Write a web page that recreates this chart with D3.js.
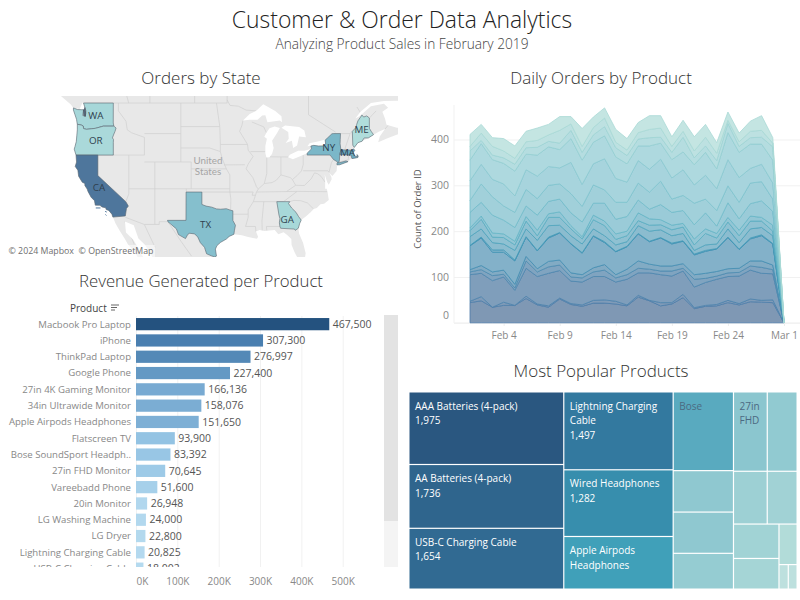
<!DOCTYPE html>
<html>
<head>
<meta charset="utf-8">
<script src="https://cdnjs.cloudflare.com/ajax/libs/d3/7.8.5/d3.min.js"></script>
<style>
  body { margin: 0; background: #fff; }
  text { font-family: "Open Sans", sans-serif; }
</style>
</head>
<body>
<div id="chart"></div>
<script>
// ---- revenue bars ----
var barProducts = ["Macbook Pro Laptop", "iPhone", "ThinkPad Laptop", "Google Phone", "27in 4K Gaming Monitor",
  "34in Ultrawide Monitor", "Apple Airpods Headphones", "Flatscreen TV", "Bose SoundSport Headph..", "27in FHD Monitor",
  "Vareebadd Phone", "20in Monitor", "LG Washing Machine", "LG Dryer", "Lightning Charging Cable", "USB-C Charging Cable"];
var barRevenue = [467500, 307300, 276997, 227400, 166136, 158076, 151650, 93900, 83392, 70645, 51600, 26948, 24000, 22800, 20825, 18002];
var revenueTicks = [0, 100000, 200000, 300000, 400000, 500000];

// ---- daily orders, running top of each stacked layer, Feb 1 .. Mar 1 ----
var orderTicks = [0, 100, 200, 300, 400];
var dayTicks = [new Date(2019, 1, 4), new Date(2019, 1, 9), new Date(2019, 1, 14), new Date(2019, 1, 19), new Date(2019, 1, 24), new Date(2019, 2, 1)];
var days = d3.timeDay.range(new Date(2019, 1, 1), new Date(2019, 2, 2));
var layerA = [44,48,34,38,38,53,39,34,52,40,36,43,43,41,37,56,48,37,41,55,31,36,37,44,39,46,45,44,0];
var layerB = [47,57,34,45,38,58,41,37,54,42,39,49,50,47,39,60,49,44,44,62,33,38,40,49,42,52,49,50,0];
var layerC = [105,108,92,100,71,119,101,108,114,91,89,101,101,89,95,109,109,105,102,113,78,88,95,101,102,115,108,107,0];
var layerD = [111,116,103,106,76,135,111,122,126,100,98,111,115,98,105,119,117,113,113,119,95,97,102,109,110,124,121,116,0];
var layerE = [116,125,111,115,84,145,118,134,137,109,105,120,127,105,117,135,128,124,124,129,105,108,112,118,119,135,135,126,0];
var layerF = [168,185,154,154,135,187,157,185,196,172,152,189,175,155,166,194,177,185,172,178,148,156,161,186,160,183,190,172,0];
var layerG = [169,187,159,159,137,188,158,187,197,173,153,190,177,156,167,195,178,186,174,179,150,158,162,187,161,185,192,173,0];
var layerH = [188,205,175,172,158,205,180,212,213,190,172,205,190,170,177,212,200,203,190,195,158,170,172,205,175,205,208,190,0];
var layerI = [201,226,187,186,170,222,190,230,230,205,183,225,212,182,190,223,213,214,203,209,170,195,185,220,190,222,222,200,0];
var layerJ = [207,233,196,194,178,232,202,238,242,212,188,235,222,194,200,240,227,225,213,217,183,205,195,230,202,233,230,213,0];
var layerK = [241,263,235,224,208,255,235,265,270,240,220,261,261,226,232,268,248,258,241,245,214,240,211,262,227,260,266,243,0];
var layerL = [267,303,275,255,241,291,271,300,303,282,254,301,290,263,263,305,285,309,270,278,261,270,245,299,263,305,308,270,0];
var layerM = [310,346,313,303,277,334,320,341,338,350,302,347,358,315,307,354,335,357,316,334,301,322,293,356,317,337,346,305,0];
var layerN = [355,391,356,348,331,368,366,384,378,402,355,394,408,362,347,386,386,392,356,373,345,372,336,415,372,390,390,355,0];
var layerO = [375,398,366,360,346,382,383,396,392,420,372,410,428,382,365,401,404,405,372,405,360,386,354,435,385,404,405,384,0];
var layerP = [385,414,385,375,359,395,398,410,420,434,385,426,447,394,377,415,422,425,385,418,375,405,370,442,395,418,420,392,0];
var layerQ = [411,433,404,402,386,418,425,433,450,450,424,449,469,422,402,437,452,452,406,442,406,433,393,460,414,440,452,404,0];
var layers = [layerA, layerB, layerC, layerD, layerE, layerF, layerG, layerH, layerI, layerJ, layerK, layerL, layerM, layerN, layerO, layerP, layerQ];

// ---- treemap, units per product ----
var column1 = [["AAA Batteries (4-pack)", 1975], ["AA Batteries (4-pack)", 1736], ["USB-C Charging Cable", 1654]];
var column2 = [["Lightning Charging Cable", 1497], ["Wired Headphones", 1282], ["Apple Airpods Headphones", 1011]];
var column3 = [["Bose SoundSport Headphones", 834], ["iPhone", 439], ["27in 4K Gaming Monitor", 437], ["Google Phone", 379]];
var rowTop = [["27in FHD Monitor", 471], ["34in Ultrawide Monitor", 416]];
var rowMid = [["Flatscreen TV", 313], ["ThinkPad Laptop", 277]];
var stackLeft = [["Macbook Pro Laptop", 275], ["20in Monitor", 245]];
var stackRight = [["Vareebadd Phone", 129]];
var pairLg = [["LG Washing Machine", 40], ["LG Dryer", 38]];
var tileLines = {
  "AAA Batteries (4-pack)": ["AAA Batteries (4-pack)", "1,975"],
  "AA Batteries (4-pack)": ["AA Batteries (4-pack)", "1,736"],
  "USB-C Charging Cable": ["USB-C Charging Cable", "1,654"],
  "Lightning Charging Cable": ["Lightning Charging", "Cable", "1,497"],
  "Wired Headphones": ["Wired Headphones", "1,282"],
  "Apple Airpods Headphones": ["Apple Airpods", "Headphones"],
  "Bose SoundSport Headphones": ["Bose"],
  "27in FHD Monitor": ["27in", "FHD"]
};

// ---- map, lon/lat outlines ----
var stateNames = ["WA", "OR", "CA", "TX", "GA", "NY", "MA", "ME"];
var stateOrders = [1450, 1320, 7300, 2650, 1400, 2900, 3300, 1100];
var stateLabelAt = [[-120.4,47.4], [-120.4,44.0], [-119.8,37.2], [-99.3,31.3], [-83.6,32.2], [-75.6,43.0], [-72.0,42.4], [-69.3,45.5]];
var outlineWA = [[-124.7,48.38],[-123.9,48.17],[-123.1,48.15],[-122.75,48.15],[-122.9,47.4],[-122.4,47.3],[-122.35,47.7],[-122.3,48],[-122.5,48.45],[-122.76,49],[-117.03,49],[-117.04,46.42],[-116.92,46],[-118.98,46],[-119.3,45.93],[-120.5,45.7],[-121.2,45.65],[-122.2,45.57],[-122.75,45.67],[-122.8,46],[-123.2,46.15],[-123.95,46.25],[-124.05,46.65],[-124.1,46.9],[-124.4,47.5],[-124.7,48.1]];
var outlineOR = [[-124.55,42.84],[-124.2,42],[-120,42],[-117.03,42],[-117.03,43.8],[-117,44.2],[-117.2,44.4],[-117,44.8],[-116.7,45.3],[-116.5,45.75],[-116.92,46],[-118.98,46],[-119.3,45.93],[-120.5,45.7],[-121.2,45.65],[-122.2,45.57],[-122.75,45.67],[-122.8,46],[-123.2,46.15],[-123.95,46.25],[-123.95,45.5],[-124.05,44.7],[-124.15,43.9],[-124.4,43.2]];
var outlineCA = [[-124.2,42],[-120,42],[-120,39],[-114.63,35],[-114.14,34.3],[-114.5,33.9],[-114.72,32.72],[-117.12,32.53],[-117.3,33],[-117.9,33.6],[-118.4,33.75],[-118.5,34.03],[-119.2,34.15],[-119.6,34.42],[-120.5,34.45],[-120.65,35.15],[-121.3,35.7],[-121.9,36.6],[-122.05,36.95],[-122.5,37.5],[-122.5,37.8],[-123,38],[-123.7,38.9],[-123.85,39.8],[-124.35,40.35],[-124.1,41]];
var outlineTX = [[-106.62,32],[-103.06,32],[-103.04,36.5],[-100,36.5],[-100,34.56],[-99.2,34.3],[-98.1,34.13],[-97.2,33.85],[-96.4,33.8],[-95.3,33.88],[-94.48,33.64],[-94.04,33.55],[-94.04,33],[-94.04,31.99],[-93.55,31.2],[-93.75,30.3],[-93.85,29.7],[-94.75,29.35],[-95.3,28.9],[-96.4,28.35],[-97.1,27.8],[-97.4,27.2],[-97.2,26],[-97.55,25.85],[-98.2,26.05],[-99.1,26.4],[-99.5,27.5],[-100.3,28.3],[-100.8,29.25],[-101.4,29.77],[-102.35,29.87],[-102.7,29.7],[-103.15,28.98],[-104.5,29.65],[-104.9,30.6],[-106,31.4],[-106.53,31.78]];
var outlineGA = [[-85.6,35],[-83.1,35],[-83.35,34.7],[-82.75,34],[-81.9,33.3],[-81.4,32.6],[-80.9,32.05],[-81.2,31.5],[-81.45,30.72],[-82.05,30.36],[-82.2,30.57],[-84.86,30.7],[-85,31],[-85.1,31.6],[-85,32.3],[-85.18,32.87]];
var outlineNY = [[-79.76,42.27],[-78.9,42.9],[-79.05,43.27],[-78.5,43.37],[-77.6,43.28],[-76.8,43.3],[-76.2,43.55],[-76.3,44.1],[-75.8,44.43],[-75,44.97],[-74.7,45],[-73.35,45],[-73.4,44.2],[-73.43,43.6],[-73.27,42.75],[-73.5,42.05],[-73.55,41.3],[-73.65,41],[-73.75,40.85],[-72.3,41.15],[-71.9,41.05],[-73.5,40.6],[-74,40.58],[-74.05,40.7],[-73.9,41],[-74.7,41.36],[-75.35,42],[-79.76,42]];
var outlineMA = [[-73.5,42.05],[-73.27,42.75],[-71.3,42.7],[-70.82,42.87],[-70.6,42.65],[-71,42.3],[-70.65,41.95],[-70.5,41.78],[-70.05,41.8],[-70.2,42.07],[-69.95,41.9],[-70,41.65],[-70.65,41.55],[-71.15,41.5],[-71.38,42.02],[-71.8,42.02]];
var outlineME = [[-71.08,45.3],[-70.4,45.8],[-70.25,46.2],[-70,46.7],[-69.22,47.46],[-68.9,47.2],[-68.3,47.35],[-67.8,47.07],[-67.8,45.7],[-67.45,45.3],[-67,44.85],[-68,44.4],[-68.8,44.4],[-69.2,43.95],[-70,43.75],[-70.7,43.08],[-70.98,43.4]];
var stateOutlines = [outlineWA, outlineOR, outlineCA, outlineTX, outlineGA, outlineNY, outlineMA, outlineME];
var channelIslands = [[[-120.4,34],[-119.5,34]], [[-118.6,33.45],[-118.3,33.35]], [[-118.55,32.95],[-118.35,32.8]]];
var pugetSound = [[-122.75,48.15],[-122.7,47.4],[-122.4,47.3],[-122.35,47.7],[-122.5,48.45]];

var waterPacific = [[-142,52],[-128.5,52],[-127.5,50.1],[-125.2,48.8],[-124.7,48.38],[-123.5,48.25],[-123.2,48.7],[-122.9,49.1],[-122.76,49],[-122.5,48.45],[-122.3,48],[-122.35,47.7],[-122.4,47.3],[-122.9,47.4],[-122.75,48.15],[-123.9,48.17],[-124.7,48.38],[-124.7,48.1],[-124.4,47.5],[-124.1,46.9],[-124.05,46.65],[-123.95,46.25],[-123.95,45.5],[-124.05,44.7],[-124.15,43.9],[-124.4,43.2],[-124.55,42.84],[-124.2,42],[-124.1,41],[-124.35,40.35],[-123.85,39.8],[-123.7,38.9],[-123,38],[-122.5,37.8],[-122.5,37.5],[-122.05,36.95],[-121.9,36.6],[-121.3,35.7],[-120.65,35.15],[-120.5,34.45],[-119.6,34.42],[-119.2,34.15],[-118.5,34.03],[-118.4,33.75],[-117.9,33.6],[-117.3,33],[-117.12,32.53],[-116.6,31.5],[-115.8,30.3],[-114.8,28.9],[-114.2,28],[-113,26.8],[-112.2,25.6],[-142,25]];
var waterCortez = [[-109.3,25.5],[-110.9,27.9],[-112.2,29],[-113.1,31.2],[-114.8,31.8],[-114.7,30.9],[-114.6,30],[-113.2,28.8],[-112.2,27.3],[-111.1,25.5]];
var waterAtlantic = [[-97.3,25],[-97.2,26],[-97.4,27.2],[-97.1,27.8],[-96.4,28.35],[-95.3,28.9],[-94.75,29.35],[-93.85,29.7],[-92.3,29.55],[-91.3,29.3],[-90.2,29.1],[-89.4,28.95],[-89.2,29.3],[-89.6,30.15],[-88.9,30.4],[-88,30.25],[-87,30.35],[-86,30.4],[-85.3,29.7],[-84.3,30.05],[-83.6,29.6],[-82.8,28.9],[-82.75,27.9],[-82.2,26.7],[-81.8,26],[-81.2,25],[-80.3,25],[-80.05,26.5],[-80.55,28.3],[-81.3,29.8],[-81.45,30.72],[-81.2,31.5],[-80.9,32.05],[-79.9,32.7],[-79.1,33.3],[-78.5,33.85],[-77.9,34],[-77.2,34.6],[-76.5,34.65],[-75.6,35.25],[-75.85,36.55],[-76,37],[-76.3,37],[-76.3,38.5],[-76.4,39.2],[-75.9,38],[-75.6,37.6],[-75.05,38.45],[-75.1,38.8],[-75.5,39.4],[-74.9,38.95],[-74.1,39.7],[-74,40.45],[-74,40.58],[-73.5,40.6],[-71.9,41.05],[-71.4,41.4],[-70.65,41.55],[-70,41.65],[-69.95,41.9],[-70.2,42.07],[-70.65,41.95],[-71,42.3],[-70.6,42.65],[-70.7,43.08],[-70,43.75],[-69.2,43.95],[-68,44.4],[-67,44.85],[-66,45.25],[-64.8,45.6],[-65.8,44.6],[-66.1,43.8],[-64.2,44.4],[-61.5,45.1],[-60,45],[-60,25]];
var waterStLawrence = [[-60,49.3],[-65,49.25],[-67.5,49],[-69.5,47.9],[-70.5,47],[-69.7,47.3],[-67.5,48.6],[-65,48.9],[-64.2,48.4],[-65.3,47.9],[-64.8,47],[-64.5,46.2],[-62.5,45.8],[-60,45.8]];
var lakeSuperior = [[-92.1,46.75],[-90.8,46.85],[-89.3,46.85],[-88.4,47.4],[-87.8,47.45],[-87.4,46.5],[-85,46.75],[-84.6,46.5],[-84.7,47.3],[-85.9,48],[-88.2,48.85],[-89.6,48],[-90.8,47.6]];
var lakeMichigan = [[-87.6,41.65],[-87,41.7],[-86.5,42.2],[-86.2,43],[-86.5,44],[-85.6,45],[-85,45.75],[-86,45.95],[-87,45.7],[-87.6,45.1],[-88,44.55],[-87.5,44.3],[-87.8,43.3],[-87.8,42.3]];
var lakeHuron = [[-84.7,45.8],[-83.4,45.2],[-83.3,44.3],[-83.9,43.7],[-82.7,44],[-82.45,43],[-81.7,43.35],[-81.3,44.6],[-80,44.5],[-80.3,45.4],[-81.3,45.9],[-84,46.1]];
var lakeErie = [[-83.4,41.7],[-82.5,41.4],[-81,41.85],[-79.8,42.27],[-78.9,42.9],[-80.3,42.6],[-81.5,42.6],[-83.1,42.05]];
var lakeOntario = [[-79.7,43.25],[-78.5,43.37],[-77,43.28],[-76.2,43.55],[-76.4,44.15],[-77.5,43.95],[-79.3,43.65]];
var waters = [waterPacific, waterCortez, waterAtlantic, waterStLawrence, lakeSuperior, lakeMichigan, lakeHuron, lakeErie, lakeOntario];

var borderLines = [
  [[-122.76,49],[-95.15,49],[-95.15,49.4],[-94.6,48.7],[-93,48.6],[-91.5,48.1],[-89.6,48]],
  [[-116.05,49],[-116.05,48],[-114.6,46.65],[-114.35,45.5],[-113.5,45.1],[-111.05,44.48],[-111.05,42]],
  [[-120,42],[-111.05,42]], [[-114.05,42],[-114.05,37]], [[-114.63,35],[-114.05,36.2],[-114.05,37]],
  [[-114.05,37],[-94.62,37]], [[-109.05,41],[-109.05,31.33]], [[-114.72,32.5],[-111.07,31.33],[-108.2,31.33],[-108.2,31.78],[-106.53,31.78]],
  [[-111.05,41],[-102.05,41],[-102.05,37]], [[-111.05,45],[-104.05,45],[-104.05,41]], [[-104.05,49],[-104.05,45]],
  [[-104.05,43],[-98.5,43],[-96.45,42.5]], [[-104.05,45.94],[-96.56,45.94]], [[-102.05,40],[-95.3,40]],
  [[-103,37],[-103,36.5]], [[-100,36.5],[-94.6,36.5]], [[-97.2,49],[-96.56,45.94],[-96.45,43.5],[-96.45,42.5],[-96.1,41.5],[-95.3,40],[-94.62,39.1],[-94.62,36.5],[-94.43,35.4],[-94.48,33.64]],
  [[-96.45,43.5],[-91.22,43.5]], [[-95.77,40.58],[-91.73,40.6]],
  [[-92.75,45.3],[-91.22,43.5],[-91.1,42.7],[-90.15,41.8],[-91.1,40.7],[-91.5,40],[-90.2,38.7],[-89.5,37.3],[-89.15,36.97],[-89.5,36.5],[-90.1,35],[-91.1,33.7],[-91.1,32.5],[-91.6,31],[-89.7,31],[-89.6,30.15]],
  [[-92.1,46.75],[-92.3,46.1],[-92.75,45.3]], [[-90.65,42.5],[-87.8,42.5]], [[-90.4,46.55],[-88.1,45.9],[-87.6,45.1]],
  [[-94.6,36.5],[-90.15,36.5],[-90.35,36],[-89.7,36]], [[-94.04,33],[-91.15,33]],
  [[-88.1,35],[-88.45,31.9],[-88.4,30.3]], [[-90.1,35],[-84.3,35]], [[-89.5,36.5],[-81.7,36.6]],
  [[-87.53,41.7],[-87.53,39.3],[-88,37.8]], [[-89.15,36.97],[-88,37.8],[-86.5,37.95],[-85.7,38.3],[-84.8,39.1],[-83,38.7],[-82.6,38.4]],
  [[-84.8,39.1],[-84.8,41.7]], [[-87,41.75],[-83.45,41.73]], [[-80.52,42],[-80.52,40.64]],
  [[-82.6,38.4],[-81.7,39],[-80.85,39.7],[-80.52,40.64]], [[-80.52,39.72],[-75.8,39.72],[-75.55,39.5]],
  [[-81.97,37.54],[-80.3,37.5],[-79,38.5],[-78.35,39.4],[-77.8,39.3],[-77.1,38.9],[-76.3,38]],
  [[-82.6,38.4],[-81.97,37.54],[-83.68,36.6]], [[-81.7,36.6],[-75.9,36.55]], [[-81.7,36.6],[-84.3,35]],
  [[-83.1,35],[-82.3,35.2],[-81,35.15],[-79.7,34.8],[-78.55,33.85]], [[-85,31],[-87.6,31],[-87.5,30.3]],
  [[-74.7,41.36],[-75.1,40.9],[-75.55,39.5]], [[-73.35,45],[-71.5,45],[-71.08,45.3]], [[-71.5,45],[-72.45,43],[-72.45,42.73]],
  [[-71.8,42.02],[-71.85,41.32]], [[-73.65,41],[-71.85,41.32]], [[-74.3,45.2],[-79.5,47.5],[-79.5,51]],
  [[-95.15,49.4],[-95.15,51]], [[-101.4,49],[-101.4,51]], [[-110,49],[-110,51]], [[-114.07,49],[-114.7,50.5]],
  [[-69.22,47.46],[-70.2,48.5]], [[-67.8,47.07],[-66.5,48]], [[-64.8,45.6],[-64.2,46.1]],
  [[-106.53,31.78],[-104,28.5],[-102,26]], [[-111.07,31.33],[-109,27.5]], [[-114.8,31.8],[-113,28]]
];

// ---- colour ramps ----
var barColor = d3.scaleLinear()
  .domain([18000, 93900, 160000, 230000, 307000, 467500])
  .range(["#b5daef", "#93c3e3", "#7aacd3", "#6398c3", "#4a7fb0", "#24527f"]);
var layerFill = d3.scaleLinear()
  .domain([0, 2, 5, 9, 13, 16])
  .range(["#7f98b4", "#7f9ebb", "#83b1c9", "#93c6d5", "#aed9df", "#c4e5e2"]);
var layerLine = d3.scaleLinear()
  .domain([0, 4, 6, 9, 12, 16])
  .range(["#4d7aa8", "#4c8bb0", "#3a90b3", "#5aafc2", "#80c4ce", "#aad9d6"]);
var tileColor = d3.scaleLinear()
  .domain([38, 129, 471, 834, 1011, 1282, 1497, 1654, 1975])
  .range(["#bde0de", "#b2dcd9", "#8bc6cf", "#59aabf", "#40a0b9", "#378ead", "#33799f", "#316a92", "#2a5780"]);
var stateColor = d3.scaleLinear()
  .domain([1100, 1450, 2650, 3300, 7300])
  .range(["#b0dddb", "#a6d7d9", "#85bfcd", "#6aa9c0", "#4e769c"]);

var w = 800;
var h = 600;
var svg = d3.select("#chart").append("svg").attr("width", w).attr("height", h).style("display", "block");

// titles
function title(txt, x, y, size, color) {
  svg.append("text").attr("x", x).attr("y", y).attr("text-anchor", "middle")
    .style("font-size", size + "px").style("font-weight", 300).style("fill", color).text(txt);
}
title("Customer & Order Data Analytics", 402, 28, 22.9, "#222");
title("Analyzing Product Sales in February 2019", 402, 49, 13.7, "#444");
title("Orders by State", 201, 84, 17, "#333");
title("Daily Orders by Product", 601, 84, 17, "#333");
title("Revenue Generated per Product", 201, 287, 16.75, "#333");
title("Most Popular Products", 601, 377, 17, "#333");

// ---- map ----
var projection = d3.geoMercator().scale(298).translate([722, 396.2]);
var geoLine = d3.line().x(function(d) { return projection(d)[0]; }).y(function(d) { return projection(d)[1]; });

svg.append("clipPath").attr("id", "mapClip").append("rect")
  .attr("x", 5).attr("y", 96).attr("width", 393).attr("height", 161);
var map = svg.append("g").attr("clip-path", "url(#mapClip)");
map.append("rect").attr("x", 5).attr("y", 96).attr("width", 393).attr("height", 161).attr("fill", "#e8e8e8");
map.selectAll(".border").data(borderLines).enter().append("path")
  .attr("class", "border").attr("d", geoLine).attr("fill", "none").attr("stroke", "#d0d0d0").attr("stroke-width", 0.7);
map.selectAll(".water").data(waters).enter().append("path")
  .attr("class", "water").attr("d", function(d) { return geoLine(d) + "Z"; }).attr("fill", "#fff");
map.selectAll(".state").data(stateOutlines).enter().append("path")
  .attr("class", "state").attr("d", function(d) { return geoLine(d) + "Z"; })
  .attr("fill", function(d, i) { return stateColor(stateOrders[i]); })
  .attr("stroke", "#5a6670").attr("stroke-width", 0.6);
map.selectAll(".island").data(channelIslands).enter().append("path")
  .attr("class", "island").attr("d", geoLine).attr("fill", "none").attr("stroke", "#4e769c").attr("stroke-width", 1);
map.append("path").attr("d", geoLine(pugetSound)).attr("fill", "#556b80").attr("stroke", "#4a5660").attr("stroke-width", 0.8);
map.selectAll(".stateLabel").data(stateNames).enter().append("text")
  .attr("class", "stateLabel")
  .attr("x", function(d, i) { return projection(stateLabelAt[i])[0]; })
  .attr("y", function(d, i) { return projection(stateLabelAt[i])[1]; })
  .attr("dy", ".35em").attr("text-anchor", "middle")
  .style("font-size", "9.8px").style("fill", "#2f3f4f").text(function(d) { return d; });
map.append("text").attr("x", 208).attr("y", 163.5).attr("text-anchor", "middle")
  .style("font-family", "Lato, sans-serif").style("font-size", "9.8px").style("fill", "#a5a5a5").text("United");
map.append("text").attr("x", 208).attr("y", 175).attr("text-anchor", "middle")
  .style("font-family", "Lato, sans-serif").style("font-size", "9.8px").style("fill", "#a5a5a5").text("States");
map.append("rect").attr("x", 5).attr("y", 245).attr("width", 150).attr("height", 12).attr("fill", "#fff").attr("opacity", 0.5);
map.append("text").attr("x", 8.5).attr("y", 254).style("font-size", "8.8px").style("fill", "#6f6f6f")
  .text("\u00a9 2024 Mapbox\u00a0\u00a0\u00a9 OpenStreetMap");

// ---- daily orders area ----
var xDay = d3.scaleTime().domain([days[0], days[days.length - 1]]).range([470, 784]);
var yOrders = d3.scaleLinear().domain([0, 400]).range([322.8, 139.5]);

var areaAxis = svg.append("g");
areaAxis.append("g").attr("transform", "translate(454,0)")
  .call(d3.axisLeft(yOrders).tickValues(orderTicks).tickSize(-346).tickFormat(d3.format("d")))
  .call(function(g) {
    g.select(".domain").remove();
    g.selectAll("line").attr("stroke", "#f1f1f1");
    g.selectAll("text").attr("x", -5).style("font-size", "10.5px").style("fill", "#888");
    g.selectAll(".tick").filter(function(d) { return d === 0; }).select("text").attr("dy", "-0.45em");
  });
areaAxis.append("line").attr("x1", 454).attr("x2", 454).attr("y1", 105).attr("y2", 323).attr("stroke", "#f1f1f1");
areaAxis.append("g").attr("transform", "translate(0,323)")
  .call(d3.axisBottom(xDay).tickValues(dayTicks).tickSize(3).tickPadding(6).tickFormat(d3.timeFormat("%b %-d")))
  .call(function(g) {
    g.select(".domain").attr("stroke", "#f1f1f1").attr("d", "M454,0H800");
    g.selectAll("line").attr("stroke", "#eee");
    g.selectAll("text").style("font-size", "10px").style("fill", "#888");
  });
svg.append("text").attr("transform", "translate(421,209) rotate(-90)").attr("text-anchor", "middle")
  .style("font-size", "9.6px").style("fill", "#555").text("Count of Order ID");

var area = d3.area()
  .x(function(d, i) { return xDay(days[i]); })
  .y1(function(d) { return yOrders(d); });

svg.append("g").selectAll("path").data(layers).enter().append("path")
  .attr("d", function(d, i) {
    var below = i > 0 ? layers[i - 1] : null;
    return area.y0(function(v, j) { return yOrders(below ? below[j] : 0); })(d);
  })
  .attr("fill", function(d, i) { return layerFill(i); })
  .attr("stroke", function(d, i) { return layerLine(i); })
  .attr("stroke-width", 0.8);

// ---- revenue bars ----
var xRev = d3.scaleLinear().domain([0, 500000]).range([136, 342.7]);
var yBar = d3.scaleBand().domain(barProducts).range([316, 316 + 16.3 * barProducts.length]).paddingInner(0.25).paddingOuter(0.125);

svg.append("g").attr("transform", "translate(0,567)")
  .call(d3.axisBottom(xRev).tickValues(revenueTicks).tickSize(-251).tickPadding(11)
    .tickFormat(function(d) { return d / 1000 + "K"; }))
  .call(function(g) {
    g.select(".domain").remove();
    g.selectAll("line").attr("stroke", "#f1f1f1");
    g.selectAll("text").style("font-size", "10px").style("fill", "#888");
    g.selectAll(".tick").filter(function(d) { return d === 0; }).select("text").attr("text-anchor", "start");
  });

svg.append("clipPath").attr("id", "barClip").append("rect").attr("x", 0).attr("y", 315).attr("width", 384).attr("height", 252);
var barG = svg.append("g").attr("clip-path", "url(#barClip)");
barG.selectAll("rect").data(barRevenue).enter().append("rect")
  .attr("x", xRev(0))
  .attr("y", function(d, i) { return yBar(barProducts[i]); })
  .attr("width", function(d) { return xRev(d) - xRev(0); })
  .attr("height", yBar.bandwidth())
  .attr("fill", function(d) { return barColor(d); });
barG.selectAll(".cat").data(barProducts).enter().append("text")
  .attr("class", "cat").attr("x", 131)
  .attr("y", function(d) { return yBar(d) + yBar.bandwidth() / 2; })
  .attr("dy", ".35em").attr("text-anchor", "end")
  .style("font-size", "9.6px").style("fill", "#888").text(function(d) { return d; });
barG.selectAll(".val").data(barRevenue).enter().append("text")
  .attr("class", "val")
  .attr("x", function(d) { return xRev(d) + 3.5; })
  .attr("y", function(d, i) { return yBar(barProducts[i]) + yBar.bandwidth() / 2; })
  .attr("dy", ".35em").style("font-size", "10.5px").style("fill", "#555")
  .text(function(d) { return d3.format(",")(d); });

svg.append("text").attr("x", 70).attr("y", 312).style("font-size", "10px").style("fill", "#444").text("Product");
svg.append("g").attr("stroke", "#666").attr("stroke-width", 1).selectAll("line").data([8, 6, 4]).enter().append("line")
  .attr("x1", 111).attr("x2", function(d) { return 111 + d; })
  .attr("y1", function(d, i) { return 305 + i * 2.5; }).attr("y2", function(d, i) { return 305 + i * 2.5; });

// scrollbar
svg.append("rect").attr("x", 384).attr("y", 315).attr("width", 14).attr("height", 252).attr("fill", "#f4f4f4");
svg.append("rect").attr("x", 384).attr("y", 315).attr("width", 14).attr("height", 206).attr("fill", "#e3e3e3");

// ---- treemap ----
function leaves(list) {
  return list.map(function(d) { return { name: d[0], value: d[1] }; });
}
var treeData = { children: [
  { children: leaves(column1) },
  { children: leaves(column2) },
  { children: leaves(column3) },
  { children: [
    { children: leaves(rowTop) },
    { children: leaves(rowMid) },
    { children: [
      { children: leaves(stackLeft) },
      { children: leaves(stackRight).concat([{ children: leaves(pairLg) }]) }
    ] }
  ] }
] };

var treeRoot = d3.hierarchy(treeData).sum(function(d) { return d.value || 0; });
d3.treemap()
  .tile(function(node, x0, y0, x1, y1) {
    (node.depth % 2 ? d3.treemapSlice : d3.treemapDice)(node, x0, y0, x1, y1);
  })
  .size([387, 196])
  .paddingInner(1.2)(treeRoot);

var tile = svg.append("g").attr("transform", "translate(409.5,392.5)")
  .selectAll("g").data(treeRoot.leaves()).enter().append("g")
  .attr("transform", function(d) { return "translate(" + d.x0 + "," + d.y0 + ")"; });
tile.append("rect")
  .attr("width", function(d) { return d.x1 - d.x0; })
  .attr("height", function(d) { return d.y1 - d.y0; })
  .attr("fill", function(d) { return tileColor(d.value); });
tile.selectAll("text").data(function(d) {
    return (tileLines[d.data.name] || []).map(function(t) { return { t: t, v: d.value }; });
  }).enter().append("text")
  .attr("x", 5.5)
  .attr("y", function(d, i) { return 17 + i * 14.6; })
  .style("font-size", "10px")
  .style("fill", function(d) { return d.v > 900 ? "#fff" : "#4c6a82"; })
  .text(function(d) { return d.t; });
</script>
</body>
</html>
